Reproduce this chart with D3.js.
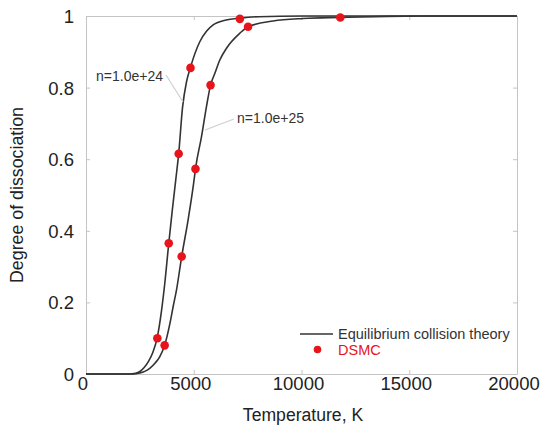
<!DOCTYPE html>
<html>
<head>
<meta charset="utf-8">
<script src="https://cdn.jsdelivr.net/npm/d3@7"></script>
<style>
  body { margin: 0; background: #fff; }
  text { font-family: "Liberation Sans", Arial, sans-serif; }
</style>
</head>
<body>
<div id="chart"></div>
<script>
// Equilibrium collision theory curves: [temperature K, degree]
var curveN24 = [
    [0, 0], [2000, 0], [2300, 0.002], [2500, 0.007], [2700, 0.018], [2900, 0.035],
    [3100, 0.06], [3300, 0.10], [3500, 0.175], [3650, 0.25], [3840, 0.365],
    [4000, 0.455], [4170, 0.545], [4300, 0.615], [4480, 0.745], [4660, 0.815],
    [4850, 0.857], [5280, 0.928], [5600, 0.958], [5900, 0.975], [6500, 0.989],
    [7140, 0.994], [8000, 0.998], [10000, 1], [20000, 1]
];
var curveN25 = [
    [0, 0], [2200, 0], [2500, 0.003], [2750, 0.008], [2960, 0.016], [3200, 0.03],
    [3420, 0.048], [3650, 0.08], [3890, 0.14], [4050, 0.19], [4200, 0.235],
    [4440, 0.328], [4750, 0.435], [5000, 0.535], [5080, 0.573], [5360, 0.663],
    [5590, 0.747], [5780, 0.807], [5980, 0.84], [6210, 0.877], [6520, 0.91],
    [7140, 0.952], [7520, 0.97], [8680, 0.986], [10080, 0.993], [11800, 0.996],
    [14000, 0.999], [16000, 1], [20000, 1]
];

// DSMC results
var dsmcT = [3310, 3840, 4300, 4850, 7140, 11800, 3650, 4440, 5080, 5780, 7520];
var dsmcAlpha = [0.10, 0.365, 0.615, 0.855, 0.992, 0.996, 0.08, 0.328, 0.573, 0.807, 0.97];

var xTicks = [0, 5000, 10000, 15000, 20000];
var yTicks = [0, 0.2, 0.4, 0.6, 0.8, 1];

var margin = { top: 16, right: 24, bottom: 56, left: 86 };
var width = 541 - margin.left - margin.right;
var height = 430 - margin.top - margin.bottom;

var svg = d3.select("#chart").append("svg")
    .attr("width", 541)
    .attr("height", 430)
    .append("g")
    .attr("transform", "translate(" + margin.left + "," + margin.top + ")");

var x = d3.scaleLinear().domain([0, 20000]).range([0, width]);
var y = d3.scaleLinear().domain([0, 1]).range([height, 0]);

// Frame with inward ticks on all four sides
var boxColor = "#c4c4c4";
svg.append("g")
    .attr("transform", "translate(0," + height + ")")
    .call(d3.axisBottom(x).tickValues(xTicks).tickSizeInner(-4).tickSizeOuter(0).tickFormat(""))
    .call(g => g.selectAll("line, path").attr("stroke", boxColor));
svg.append("g")
    .call(d3.axisTop(x).tickValues(xTicks).tickSizeInner(-4).tickSizeOuter(0).tickFormat(""))
    .call(g => g.selectAll("line, path").attr("stroke", boxColor));
svg.append("g")
    .call(d3.axisLeft(y).tickValues(yTicks).tickSizeInner(-4).tickSizeOuter(0).tickFormat(""))
    .call(g => g.selectAll("line, path").attr("stroke", boxColor));
svg.append("g")
    .attr("transform", "translate(" + width + ",0)")
    .call(d3.axisRight(y).tickValues(yTicks).tickSizeInner(-4).tickSizeOuter(0).tickFormat(""))
    .call(g => g.selectAll("line, path").attr("stroke", boxColor));

// Tick labels
svg.selectAll(".xlab")
    .data(xTicks)
    .enter()
    .append("text")
    .attr("x", d => x(d) - 3)
    .attr("y", height + 16)
    .attr("text-anchor", "middle")
    .attr("font-size", "18.5px")
    .attr("fill", "#222")
    .text(d => d);

svg.selectAll(".ylab")
    .data(yTicks)
    .enter()
    .append("text")
    .attr("x", -12)
    .attr("y", d => y(d) + 7)
    .attr("text-anchor", "end")
    .attr("font-size", "18.5px")
    .attr("fill", "#222")
    .text(d => d);

// Axis titles
svg.append("text")
    .attr("x", 303 - margin.left)
    .attr("y", 421 - margin.top)
    .attr("text-anchor", "middle")
    .attr("font-size", "17.6px")
    .attr("fill", "#222")
    .text("Temperature, K");

svg.append("text")
    .attr("transform", "rotate(-90)")
    .attr("x", -(195 - margin.top))
    .attr("y", 23 - margin.left)
    .attr("text-anchor", "middle")
    .attr("font-size", "17.8px")
    .attr("fill", "#222")
    .text("Degree of dissociation");

// Curves
var line = d3.line()
    .x(d => x(d[0]))
    .y(d => y(d[1]))
    .curve(d3.curveMonotoneX);

[curveN24, curveN25].forEach(function(c) {
    svg.append("path")
        .datum(c)
        .attr("d", line)
        .attr("fill", "none")
        .attr("stroke", "#333")
        .attr("stroke-width", 1.6);
});

// Curve labels with leader lines
svg.append("line")
    .attr("x1", 166 - margin.left).attr("y1", 75 - margin.top)
    .attr("x2", 183 - margin.left).attr("y2", 102 - margin.top)
    .attr("stroke", "#cfcfcf").attr("stroke-width", 1.2);
svg.append("text")
    .attr("x", 96 - margin.left)
    .attr("y", 81 - margin.top)
    .attr("font-size", "14px")
    .attr("fill", "#333")
    .text("n=1.0e+24");

svg.append("line")
    .attr("x1", 234 - margin.left).attr("y1", 119 - margin.top)
    .attr("x2", 205 - margin.left).attr("y2", 130 - margin.top)
    .attr("stroke", "#cfcfcf").attr("stroke-width", 1.2);
svg.append("text")
    .attr("x", 237 - margin.left)
    .attr("y", 123 - margin.top)
    .attr("font-size", "14px")
    .attr("fill", "#333")
    .text("n=1.0e+25");

// DSMC points
svg.selectAll(".dot")
    .data(dsmcT)
    .enter()
    .append("circle")
    .attr("cx", d => x(d))
    .attr("cy", (d, i) => y(dsmcAlpha[i]))
    .attr("r", 4.3)
    .attr("fill", "#e8141c");

// Legend
var legend = svg.append("g")
    .attr("transform", "translate(" + (300 - margin.left) + "," + (334 - margin.top) + ")");

legend.append("line")
    .attr("x1", 0).attr("x2", 33)
    .attr("y1", 0).attr("y2", 0)
    .attr("stroke", "#333")
    .attr("stroke-width", 1.6);

legend.append("text")
    .attr("x", 38)
    .attr("y", 5)
    .attr("font-size", "14.5px")
    .attr("fill", "#333")
    .text("Equilibrium collision theory");

legend.append("circle")
    .attr("cx", 17.5)
    .attr("cy", 15.5)
    .attr("r", 3.8)
    .attr("fill", "#e8141c");

legend.append("text")
    .attr("x", 38)
    .attr("y", 21)
    .attr("font-size", "14.5px")
    .attr("fill", "#e8141c")
    .text("DSMC");
</script>
</body>
</html>
